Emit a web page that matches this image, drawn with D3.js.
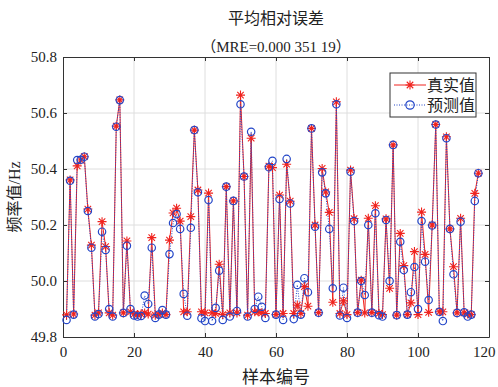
<!DOCTYPE html>
<html>
<head>
<meta charset="utf-8">
<script src="https://cdn.jsdelivr.net/npm/d3@7/dist/d3.min.js"></script>
<style>
  body { margin: 0; background: #fff; }
  svg { display: block; }
  text { font-family: "Liberation Serif", "Times New Roman", "Noto Sans CJK SC", serif; fill: #222; }
</style>
</head>
<body>
<svg id="chart" width="498" height="387"></svg>
<script>
// sample index runs 1..117
const actualValues = [
  49.879, 50.361, 49.882, 50.411, 50.432, 50.444, 50.257, 50.128, 49.878, 49.886,
  50.212, 50.123, 49.886, 49.878, 50.553, 50.647, 49.886, 50.143, 49.890, 49.882,
  49.880, 49.882, 49.886, 49.882, 50.155, 49.878, 49.880, 49.886, 49.880, 50.146,
  50.243, 50.260, 50.214, 49.890, 49.890, 50.230, 50.539, 50.325, 49.890, 49.886,
  50.314, 49.886, 49.884, 50.060, 49.880, 50.337, 49.886, 50.286, 49.886, 50.664,
  50.373, 49.878, 50.510, 49.890, 49.890, 49.886, 49.884, 50.410, 50.405, 49.880,
  50.307, 49.884, 50.417, 50.285, 49.884, 49.914, 49.884, 49.980, 49.910, 50.545,
  50.200, 49.887, 50.402, 50.318, 50.245, 49.924, 50.640, 49.884, 49.929, 49.880,
  50.396, 50.223, 49.887, 50.003, 49.886, 50.224, 49.887, 50.269, 49.884, 49.880,
  50.222, 49.974, 50.486, 49.878, 50.170, 50.055, 49.880, 49.922, 50.105, 49.880,
  50.246, 50.095, 49.888, 50.200, 50.559, 49.890, 49.890, 50.515, 50.186, 50.051,
  49.886, 50.224, 49.886, 49.882, 49.880, 50.313, 50.385
];
const predictedValues = [
  49.861, 50.358, 49.880, 50.432, 50.433, 50.444, 50.250, 50.119, 49.873, 49.882,
  50.176, 50.111, 49.900, 49.873, 50.551, 50.646, 49.886, 50.126, 49.900, 49.877,
  49.873, 49.875, 49.948, 49.918, 50.119, 49.868, 49.880, 49.896, 49.880, 50.096,
  50.207, 50.239, 50.186, 49.954, 49.876, 50.190, 50.539, 50.317, 49.867, 49.857,
  50.289, 49.857, 49.904, 50.037, 49.861, 50.337, 49.873, 50.286, 49.893, 50.631,
  50.373, 49.873, 50.533, 49.900, 49.944, 49.908, 49.868, 50.406, 50.429, 49.880,
  50.293, 49.861, 50.436, 50.277, 49.864, 49.986, 49.880, 50.010, 49.960, 50.545,
  50.194, 49.887, 50.388, 50.313, 50.186, 49.974, 50.631, 49.877, 49.976, 49.868,
  50.390, 50.214, 49.887, 50.000, 49.950, 50.200, 49.887, 50.242, 49.878, 49.873,
  50.218, 50.000, 50.486, 49.878, 50.140, 50.039, 49.880, 49.960, 50.050, 49.900,
  50.214, 50.069, 49.932, 50.198, 50.559, 49.890, 49.857, 50.510, 50.186, 50.024,
  49.886, 50.212, 49.888, 49.873, 49.880, 50.286, 50.385
];
const xTicks = [0, 20, 40, 60, 80, 100, 120];
const yTicks = [49.8, 50.0, 50.2, 50.4, 50.6, 50.8];
const seriesNames = ["真实值", "预测值"];

const redColor = "#f0231e";
const blueColor = "#2346c8";

const margin = {left: 63, right: 9, top: 57, bottom: 50};
const width = 498, height = 387;

const svg = d3.select("#chart");

const x = d3.scaleLinear().domain([0, 120]).range([margin.left, width - margin.right]);
const y = d3.scaleLinear().domain([49.8, 50.8]).range([height - margin.bottom, margin.top]);

// grid
const grid = svg.append("g");
grid.selectAll("line.vx")
  .data(xTicks.slice(1, -1))
  .enter().append("line")
  .attr("x1", d => x(d)).attr("x2", d => x(d))
  .attr("y1", y(49.8)).attr("y2", y(50.8))
  .attr("stroke", "#dedede").attr("stroke-width", 1);
grid.selectAll("line.hy")
  .data(yTicks.slice(1, -1))
  .enter().append("line")
  .attr("y1", d => y(d)).attr("y2", d => y(d))
  .attr("x1", x(0)).attr("x2", x(120))
  .attr("stroke", "#dedede").attr("stroke-width", 1);

// axes, ticks inward on all four sides
const tickLen = 4;
const xAxisG = svg.append("g").attr("transform", `translate(0,${y(49.8)})`)
  .call(d3.axisBottom(x).tickValues(xTicks).tickSizeInner(-tickLen).tickSizeOuter(0).tickPadding(9));
svg.append("g").attr("transform", `translate(0,${y(50.8)})`)
  .call(d3.axisTop(x).tickValues(xTicks).tickSizeInner(-tickLen).tickSizeOuter(0).tickFormat(""));
svg.append("g").attr("transform", `translate(${x(0)},0)`)
  .call(d3.axisLeft(y).tickValues(yTicks).tickFormat(d3.format(".1f")).tickSizeInner(-tickLen).tickSizeOuter(0).tickPadding(6));
svg.append("g").attr("transform", `translate(${x(120)},0)`)
  .call(d3.axisRight(y).tickValues(yTicks).tickSizeInner(-tickLen).tickSizeOuter(0).tickFormat(""));

svg.selectAll(".domain").attr("stroke", "#333");
svg.selectAll(".tick line").attr("stroke", "#333");
svg.selectAll(".tick text")
  .attr("font-size", 15)
  .attr("font-family", "Liberation Serif, Times New Roman, serif")
  .attr("fill", "#222");

// keep the last x label inside the window
xAxisG.selectAll(".tick text")
  .filter(d => d == 120)
  .attr("text-anchor", "end")
  .attr("dx", 6);

// lines
const line = d3.line().x((d, i) => x(i + 1)).y(d => y(d));

svg.append("path")
  .datum(actualValues)
  .attr("fill", "none")
  .attr("stroke", redColor)
  .attr("stroke-width", 1)
  .attr("d", line);

svg.append("path")
  .datum(predictedValues)
  .attr("fill", "none")
  .attr("stroke", blueColor)
  .attr("stroke-width", 1)
  .attr("stroke-dasharray", "1,1.5")
  .attr("d", line);

// star marker: + and x
function starPath(cx, cy, r) {
  const k = r * 0.72;
  return `M${cx - r},${cy}L${cx + r},${cy}M${cx},${cy - r}L${cx},${cy + r}` +
    `M${cx - k},${cy - k}L${cx + k},${cy + k}M${cx - k},${cy + k}L${cx + k},${cy - k}`;
}

svg.append("g").selectAll("path")
  .data(actualValues)
  .enter().append("path")
  .attr("d", (d, i) => starPath(x(i + 1), y(d), 4.5))
  .attr("stroke", redColor)
  .attr("stroke-width", 1.1)
  .attr("fill", "none");

svg.append("g").selectAll("circle")
  .data(predictedValues)
  .enter().append("circle")
  .attr("cx", (d, i) => x(i + 1))
  .attr("cy", d => y(d))
  .attr("r", 3.7)
  .attr("fill", "none")
  .attr("stroke", blueColor)
  .attr("stroke-width", 1.2);

// titles
svg.append("text")
  .attr("x", (x(0) + x(120)) / 2).attr("y", 24)
  .attr("text-anchor", "middle")
  .attr("font-size", 16)
  .text("平均相对误差");
svg.append("text")
  .attr("x", (x(0) + x(120)) / 2).attr("y", 52)
  .attr("text-anchor", "middle")
  .attr("font-size", 15)
  .text("（MRE=0.000 351 19）");

svg.append("text")
  .attr("x", (x(0) + x(120)) / 2).attr("y", 383)
  .attr("text-anchor", "middle")
  .attr("font-size", 17)
  .text("样本编号");

svg.append("text")
  .attr("transform", `translate(20,${(y(49.8) + y(50.8)) / 2}) rotate(-90)`)
  .attr("text-anchor", "middle")
  .attr("font-size", 16)
  .text("频率值/Hz");

// legend
const legend = svg.append("g").attr("transform", "translate(390,73)");
legend.append("rect")
  .attr("width", 86).attr("height", 44)
  .attr("fill", "#fff").attr("stroke", "#333").attr("stroke-width", 1);

const legendRows = [
  {name: seriesNames[0], color: redColor, dash: null, marker: "star"},
  {name: seriesNames[1], color: blueColor, dash: "1,1.5", marker: "circle"}
];
legendRows.forEach((row, i) => {
  const cy = 12 + i * 20;
  legend.append("line")
    .attr("x1", 4).attr("x2", 36).attr("y1", cy).attr("y2", cy)
    .attr("stroke", row.color).attr("stroke-width", 1)
    .attr("stroke-dasharray", row.dash);
  if (row.marker == "star") {
    legend.append("path").attr("d", starPath(20, cy, 4.5))
      .attr("stroke", row.color).attr("stroke-width", 1.1).attr("fill", "none");
  } else {
    legend.append("circle").attr("cx", 20).attr("cy", cy).attr("r", 4.2)
      .attr("stroke", row.color).attr("stroke-width", 1.2).attr("fill", "none");
  }
  legend.append("text")
    .attr("x", 37).attr("y", cy + 6)
    .attr("font-size", 16)
    .text(row.name);
});
</script>
</body>
</html>
